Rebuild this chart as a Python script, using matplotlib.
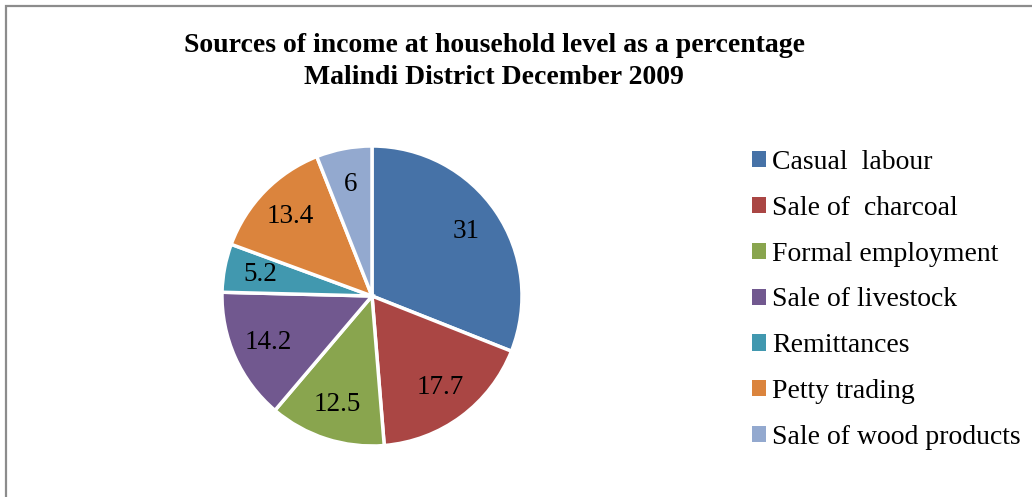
import matplotlib.pyplot as plt
from matplotlib.patches import Rectangle, Patch
import numpy as np

categories = ["Casual  labour", "Sale of  charcoal", "Formal employment",
              "Sale of livestock", "Remittances", "Petty trading",
              "Sale of wood products"]
values = [31, 17.7, 12.5, 14.2, 5.2, 13.4, 6]
value_labels = ["31", "17.7", "12.5", "14.2", "5.2", "13.4", "6"]
colors = ["#4672A7", "#AA4644", "#89A54E", "#71588F", "#4198AF", "#DB843D", "#93A9CF"]

plt.rcParams['font.family'] = ['Liberation Serif', 'DejaVu Serif']

W, H = 1032, 497
fig = plt.figure(figsize=(W / 100, H / 100), dpi=100)

# chart-area border (runs off the right/bottom edge like the screenshot)
fig.patches.append(Rectangle((6 / W, -0.1), 1.2, (H - 6) / H + 0.1,
                             transform=fig.transFigure, fill=False,
                             edgecolor="#8c8c8c", linewidth=1.6))

fig.text(494 / W, 1 - 46 / H, "Sources of income at household level as a percentage",
         ha="center", va="center", fontsize=20, fontweight="bold")
fig.text(494 / W, 1 - 77 / H, "Malindi District December 2009",
         ha="center", va="center", fontsize=20, fontweight="bold")

# pie: centre ~ (372, 296) px, radius 150 px
cx, cy, r = 372, 296, 150
ax = fig.add_axes([(cx - r) / W, (H - cy - r) / H, 2 * r / W, 2 * r / H])
wedges, _ = ax.pie(values, colors=colors, startangle=90, counterclock=False,
                   wedgeprops=dict(edgecolor="white", linewidth=2.5))
ax.set_xlim(-1, 1)
ax.set_ylim(-1, 1)
ax.set_aspect("equal")
ax.axis("off")

ang = 90.0
for v, lab in zip(values, value_labels):
    mid = ang - v / sum(values) * 180
    ang -= v / sum(values) * 360
    t = np.deg2rad(mid)
    ax.text(0.76 * np.cos(t), 0.76 * np.sin(t), lab, ha="center", va="center",
            fontsize=19.5)

handles = [Patch(facecolor=c, edgecolor="none") for c in colors]
fig.legend(handles, categories, loc="upper left",
           bbox_to_anchor=(752 / W, 1 - 150 / H), frameon=False,
           fontsize=20, handlelength=0.52, handleheight=0.52,
           handletextpad=0.2, labelspacing=0.75, borderpad=0, borderaxespad=0)

fig.savefig("out.png", dpi=100)
